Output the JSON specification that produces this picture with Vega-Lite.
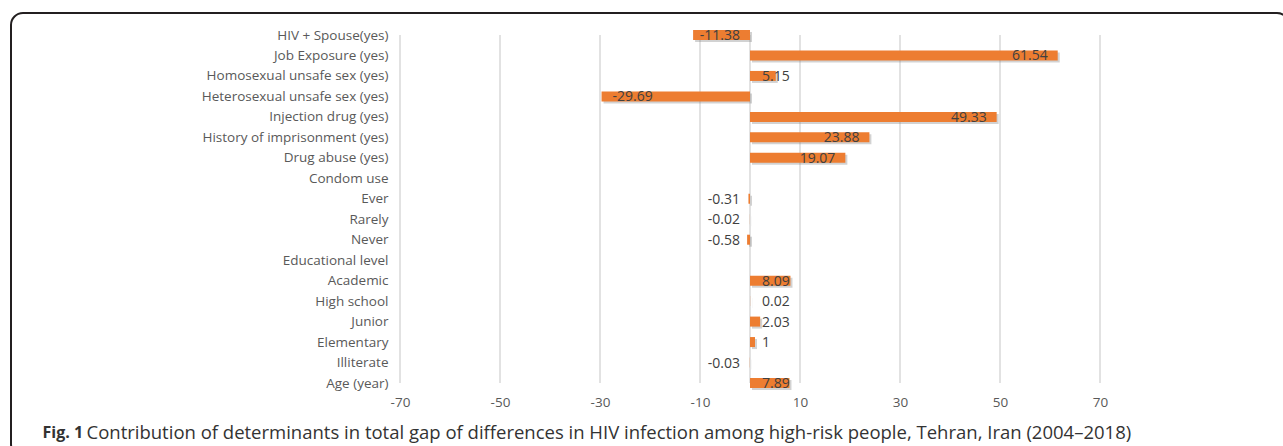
{
  "$schema": "https://vega.github.io/schema/vega-lite/v6.json",
  "autosize": {"type": "none"},
  "padding": {"left": 11, "top": 13, "right": -6, "bottom": -10},
  "width": 1278,
  "height": 443,
  "background": "white",
  "view": {"stroke": "#231f20", "strokeWidth": 2, "cornerRadius": 12, "fill": null},
  "config": {"font": "Open Sans"},
  "datasets": {
    "contrib": [
      {"factor": "HIV + Spouse(yes)", "value": -11.38},
      {"factor": "Job Exposure (yes)", "value": 61.54},
      {"factor": "Homosexual unsafe sex (yes)", "value": 5.15},
      {"factor": "Heterosexual unsafe sex (yes)", "value": -29.69},
      {"factor": "Injection drug (yes)", "value": 49.33},
      {"factor": "History of imprisonment (yes)", "value": 23.88},
      {"factor": "Drug abuse (yes)", "value": 19.07},
      {"factor": "Condom use", "value": null},
      {"factor": "Ever\u00a0", "value": -0.31},
      {"factor": "Rarely\u00a0", "value": -0.02},
      {"factor": "Never\u00a0", "value": -0.58},
      {"factor": "Educational level", "value": null},
      {"factor": "Academic", "value": 8.09},
      {"factor": "High school", "value": 0.02},
      {"factor": "Junior", "value": 2.03},
      {"factor": "Elementary\u00a0", "value": 1},
      {"factor": "Illiterate\u00a0", "value": -0.03},
      {"factor": "Age (year)", "value": 7.89}
    ],
    "ticks": [
      {"tick": -70}, {"tick": -50}, {"tick": -30}, {"tick": -10}, {"tick": 0},
      {"tick": 10}, {"tick": 30}, {"tick": 50}, {"tick": 70}
    ]
  },
  "encoding": {
    "y": {
      "field": "factor",
      "type": "nominal",
      "sort": null,
      "scale": {
        "type": "point",
        "padding": 0,
        "range": [22, 370],
        "domain": ["HIV + Spouse(yes)", "Job Exposure (yes)", "Homosexual unsafe sex (yes)", "Heterosexual unsafe sex (yes)", "Injection drug (yes)", "History of imprisonment (yes)", "Drug abuse (yes)", "Condom use", "Ever\u00a0", "Rarely\u00a0", "Never\u00a0", "Educational level", "Academic", "High school", "Junior", "Elementary\u00a0", "Illiterate\u00a0", "Age (year)"]
      },
      "axis": {
        "offset": -389,
        "domain": false,
        "ticks": false,
        "tickSize": 0,
        "grid": false,
        "labelPadding": 12,
        "labelLimit": 400,
        "labelFont": "Open Sans",
        "labelFontSize": 13.5,
        "labelColor": "#595959",
        "title": "Fig. 1",
        "titleAngle": 0,
        "titleX": -358,
        "titleY": 419,
        "titleAlign": "left",
        "titleBaseline": "middle",
        "titleFont": "Open Sans",
        "titleFontSize": 16,
        "titleFontWeight": "bold",
        "titleColor": "#333333"
      }
    }
  },
  "layer": [
    {
      "data": {"name": "ticks"},
      "mark": {"type": "rule", "color": "#d9d9d9", "strokeWidth": 1.5},
      "encoding": {
        "x": {"field": "tick", "type": "quantitative"},
        "y": {"datum": "HIV + Spouse(yes)", "type": "nominal"},
        "y2": {"datum": "Age (year)"}
      }
    },
    {
      "data": {"name": "contrib"},
      "transform": [{"filter": "isValid(datum.value)"}],
      "mark": {"type": "bar", "height": 10, "color": "#7f7f7f", "opacity": 0.35, "xOffset": 2, "yOffset": 2},
      "encoding": {
        "x": {"field": "value", "type": "quantitative"}
      }
    },
    {
      "data": {"name": "contrib"},
      "transform": [{"filter": "isValid(datum.value)"}],
      "mark": {"type": "bar", "height": 10, "color": "#ED7D31"},
      "encoding": {
        "x": {
          "field": "value",
          "type": "quantitative",
          "scale": {"domain": [-70, 70], "range": [389, 1089], "nice": false, "zero": false},
          "axis": {
            "values": [-70, -50, -30, -10, 10, 30, 50, 70],
            "labelExpr": "'' + datum.value",
            "labelFlush": false,
            "labelOverlap": false,
            "offset": -73,
            "domain": false,
            "ticks": false,
            "tickSize": 0,
            "grid": false,
            "labelPadding": 12,
            "labelFont": "Open Sans",
            "labelFontSize": 13.5,
            "labelColor": "#595959",
            "title": "Contribution of determinants in total gap of differences in HIV infection among high-risk people, Tehran, Iran (2004–2018)",
            "titleX": 75,
            "titleY": 49,
            "titleAlign": "left",
            "titleBaseline": "middle",
            "titleFont": "Open Sans",
            "titleFontSize": 18.5,
            "titleFontWeight": "normal",
            "titleColor": "#333333"
          }
        }
      }
    },
    {
      "data": {"name": "contrib"},
      "transform": [{"filter": "isValid(datum.value) && datum.value >= 15"}],
      "mark": {"type": "text", "align": "right", "baseline": "middle", "dx": -10, "dy": 1, "fontSize": 14, "color": "#404040"},
      "encoding": {
        "x": {"field": "value", "type": "quantitative"},
        "text": {"field": "value", "type": "nominal"}
      }
    },
    {
      "data": {"name": "contrib"},
      "transform": [{"filter": "isValid(datum.value) && datum.value >= 0 && datum.value < 15"}],
      "mark": {"type": "text", "align": "left", "baseline": "middle", "dx": 12, "dy": 1, "fontSize": 14, "color": "#404040"},
      "encoding": {
        "x": {"datum": 0, "type": "quantitative"},
        "text": {"field": "value", "type": "nominal"}
      }
    },
    {
      "data": {"name": "contrib"},
      "transform": [{"filter": "isValid(datum.value) && datum.value < 0 && datum.value > -15"}],
      "mark": {"type": "text", "align": "right", "baseline": "middle", "dx": -10, "dy": 1, "fontSize": 14, "color": "#404040"},
      "encoding": {
        "x": {"datum": 0, "type": "quantitative"},
        "text": {"field": "value", "type": "nominal"}
      }
    },
    {
      "data": {"name": "contrib"},
      "transform": [{"filter": "isValid(datum.value) && datum.value <= -15"}],
      "mark": {"type": "text", "align": "left", "baseline": "middle", "dx": 11, "dy": 1, "fontSize": 14, "color": "#404040"},
      "encoding": {
        "x": {"field": "value", "type": "quantitative"},
        "text": {"field": "value", "type": "nominal"}
      }
    }
  ]
}
